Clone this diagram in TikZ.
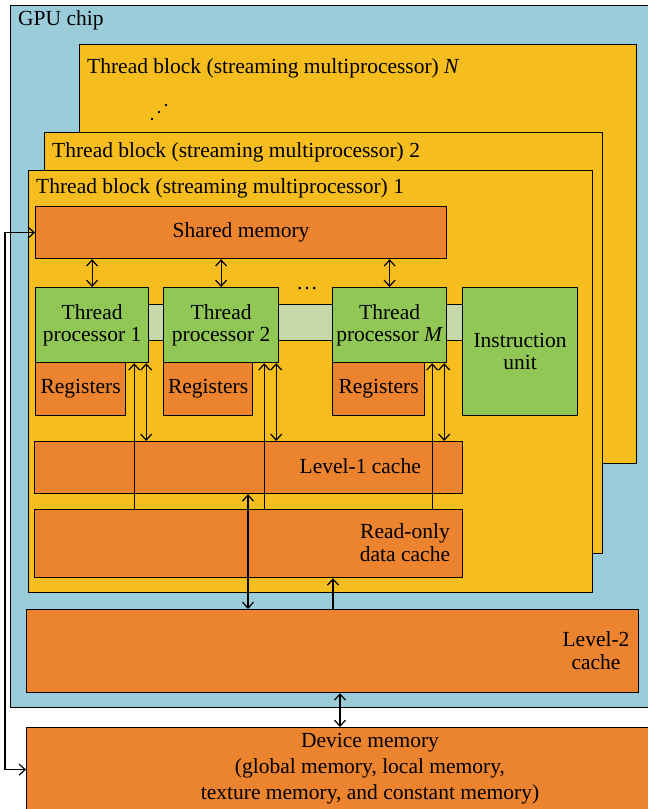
\documentclass[tikz,border=0pt]{standalone}
\usepackage{fontspec}
\setmainfont{Liberation Serif}
\usetikzlibrary{arrows.meta,positioning}
\definecolor{chipblue}{RGB}{154,204,218}
\definecolor{blockyellow}{RGB}{245,189,30}
\definecolor{memorange}{RGB}{235,131,47}
\definecolor{procgreen}{RGB}{145,200,85}
\definecolor{busgreen}{RGB}{197,216,170}
\tikzset{
  box/.style={draw, line width=1.2pt, anchor=north west, inner sep=0pt,
    font=\fontsize{21.5}{22}\selectfont, align=center},
  chip/.style={box, fill=chipblue},
  block/.style={box, fill=blockyellow},
  mem/.style={box, fill=memorange},
  proc/.style={box, fill=procgreen},
  bus/.style={box, fill=busgreen},
  tag/.style={inner sep=0pt, align=center, font=\fontsize{21.5}{23}\selectfont},
  link/.style={line width=1.2pt}
}
\begin{document}
\begin{tikzpicture}[x=1pt,y=-1pt,>={Straight Barb[length=6pt,width=11pt]}]
\clip (0,0) rectangle (648,809);
\fill[white] (0,0) rectangle (648,809);
% chip and thread blocks
\node[chip, minimum width=642pt, minimum height=702pt] (chip) at (10,5) {};
\node[tag, anchor=west] (chiptag) at (18,20) {GPU chip};
\node[block, minimum width=557pt, minimum height=419pt] (blkN) at (79,44) {};
\node[tag, anchor=west] (blkNtag) at (87,68) {Thread block (streaming multiprocessor) \textit{N}};
\foreach \j/\k in {0/152,-7/159,-14/166}
  \fill (\k,119+\j) circle (1.3pt);
\node[block, minimum width=558pt, minimum height=421pt] (blk2) at (44,132) {};
\node[tag, anchor=west] (blk2tag) at (52,152) {Thread block (streaming multiprocessor) 2};
\node[block, minimum width=564pt, minimum height=422pt] (blk1) at (28,170) {};
\node[tag, anchor=west] (blk1tag) at (36,188) {Thread block (streaming multiprocessor) 1};
% inside thread block 1
\node[mem, minimum width=411pt, minimum height=52pt] (shared) at (35,206) {Shared memory};
\node[bus, minimum width=314pt, minimum height=36pt] (bus) at (148,304) {};
\node[proc, minimum width=113pt, minimum height=75pt] (tp1) at (35,287) {Thread\\processor 1};
\node[proc, minimum width=115pt, minimum height=75pt] (tp2) at (163,287) {Thread\\processor 2};
\node[proc, minimum width=114pt, minimum height=75pt] (tpm) at (332,287) {Thread\\processor \textit{M}};
\node[tag] (tpdots) at (307,289) {\dots};
\node[proc, minimum width=115pt, minimum height=128pt] (iu) at (462,287) {Instruction\\unit};
\node[mem, minimum width=90pt, minimum height=53pt] (reg1) at (35,362) {Registers};
\node[mem, minimum width=89pt, minimum height=53pt] (reg2) at (163,362) {Registers};
\node[mem, minimum width=92pt, minimum height=53pt] (regm) at (332,362) {Registers};
\node[mem, minimum width=428pt, minimum height=52pt] (l1) at (34,441) {};
\node[tag, anchor=east] (l1tag) at (421,466) {Level-1 cache};
\node[mem, minimum width=428pt, minimum height=68pt] (ro) at (34,509) {};
\node[tag] (rotag) at (405,543) {Read-only\\data cache};
% level-2 and device memory
\node[mem, minimum width=612pt, minimum height=83pt] (l2) at (26,609) {};
\node[tag] (l2tag) at (596,651) {Level-2\\cache};
\node[mem, minimum width=626pt, minimum height=84pt] (dev) at (26,727) {};
\node[tag, font=\fontsize{21.5}{26}\selectfont] (devtag) at (370,769)
  {Device memory\\(global memory, local memory,\\texture memory, and constant memory)};
% connectors
\foreach \p in {tp1,tp2,tpm}{
  \draw[link,<->] (\p.north |- shared.south) -- (\p.north);
  \draw[link,<->] ([xshift=-3pt]\p.south east) -- ([xshift=-3pt]\p.south east |- l1.north);
  \draw[link,<-] ([xshift=-15pt]\p.south east) -- ([xshift=-15pt]\p.south east |- ro.north);
}
\draw[link,<->] ([xshift=214pt]l1.south west) -- ([xshift=214pt]l1.south west |- l2.north);
\draw[link,->] ([xshift=299pt]ro.south west |- l2.north) -- ([xshift=299pt]ro.south west);
\draw[link,<->] ([xshift=314pt]l2.south west) -- ([xshift=314pt]l2.south west |- dev.north);
\draw[link,<->] (shared.west) -- ++(-30pt,0) |- (dev.west);
\end{tikzpicture}
\end{document}
